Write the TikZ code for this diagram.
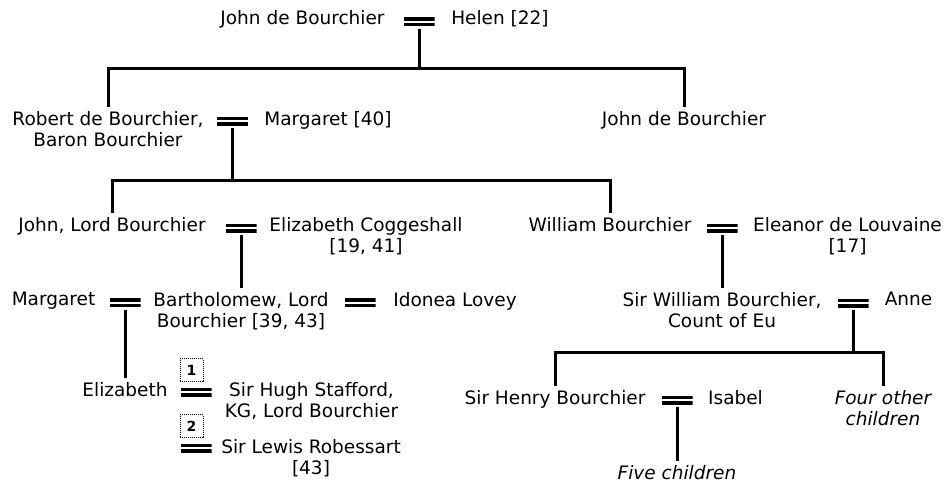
\documentclass[tikz,border=0pt]{standalone}
\usepackage{fontspec}
\setmainfont{DejaVu Sans}

\tikzset{
  person/.style={anchor=north, inner sep=0pt, outer sep=4pt, align=center,
    font=\fontsize{18.5}{21.5}\selectfont},
  other/.style={person, font=\fontsize{18.5}{21.5}\selectfont\itshape},
  wed/.style={minimum width=31pt, minimum height=9pt, inner sep=0pt, outer sep=2.5pt,
    path picture={
      \fill (path picture bounding box.north west) rectangle ([yshift=-3.5pt]path picture bounding box.north east);
      \fill (path picture bounding box.south west) rectangle ([yshift=3.5pt]path picture bounding box.south east);
    }},
  num/.style={draw, densely dotted, line width=1pt, minimum width=23pt, minimum height=23pt,
    inner sep=0pt, font=\fontsize{14}{14}\selectfont\bfseries},
  link/.style={line width=3pt}
}

\begin{document}
\begin{tikzpicture}[x=1pt, y=-1pt]
  \useasboundingbox (0,0) rectangle (952,482);

  \node[person] (jdb) at (302.5,6) {John de Bourchier};
  \node[wed] (m1) at (419,21.5) {};
  \node[person] (helen) at (500,6) {Helen [22]};

  \node[person] (robert) at (108,107) {Robert de Bourchier,\\Baron Bourchier};
  \node[wed] (m2) at (232.5,121) {};
  \node[person] (margaretb) at (328,107) {Margaret [40]};
  \node[person] (johnb) at (684,107) {John de Bourchier};

  \node[person] (johnlord) at (112,213) {John, Lord Bourchier};
  \node[wed] (m3) at (241,228) {};
  \node[person] (elizc) at (366,213) {Elizabeth Coggeshall\\{}[19, 41]};
  \node[person] (william) at (610,213) {William Bourchier};
  \node[wed] (m4) at (722,228) {};
  \node[person] (eleanor) at (847.5,213) {Eleanor de Louvaine\\{}[17]};

  \node[person] (margaret) at (53.5,288) {Margaret};
  \node[wed] (m5) at (125,302.5) {};
  \node[person] (barth) at (241,288) {Bartholomew, Lord\\Bourchier [39, 43]};
  \node[wed] (m6) at (360,302.5) {};
  \node[person] (idonea) at (455,288) {Idonea Lovey};
  \node[person] (sirwill) at (722,288) {Sir William Bourchier,\\Count of Eu};
  \node[wed] (m7) at (853,303) {};
  \node[person] (anne) at (908.5,288) {Anne};

  \node[person] (elizabeth) at (125,378) {Elizabeth};
  \node[num] (n1) at (191.5,370) {1};
  \node[wed] (m8) at (196,392) {};
  \node[person] (hugh) at (311.5,378) {Sir Hugh Stafford,\\KG, Lord Bourchier};
  \node[num] (n2) at (191.5,426) {2};
  \node[wed] (m9) at (196,448) {};
  \node[person] (lewis) at (311,435) {Sir Lewis Robessart\\{}[43]};

  \node[person] (henry) at (555,386) {Sir Henry Bourchier};
  \node[wed] (m10) at (677,400) {};
  \node[person] (isabel) at (735.5,386) {Isabel};
  \node[other] (four) at (883,386) {Four other\\children};
  \node[other] (five) at (677,461) {Five children};

  \coordinate (f1) at (419,68);
  \coordinate (f2) at (232.5,180);
  \coordinate (f3) at (853,352);

  \draw[link] (m1) -- (f1);
  \draw[link] (robert) |- (f1) -| (johnb);
  \draw[link] (m2) -- (f2);
  \draw[link] (johnlord) |- (f2) -| (william);
  \draw[link] (m3) -- (barth);
  \draw[link] (m4) -- (sirwill);
  \draw[link] (m5) -- (elizabeth);
  \draw[link] (m7) -- (f3);
  \draw[link] (henry) |- (f3) -| (four);
  \draw[link] (m10) -- (five);
\end{tikzpicture}
\end{document}
